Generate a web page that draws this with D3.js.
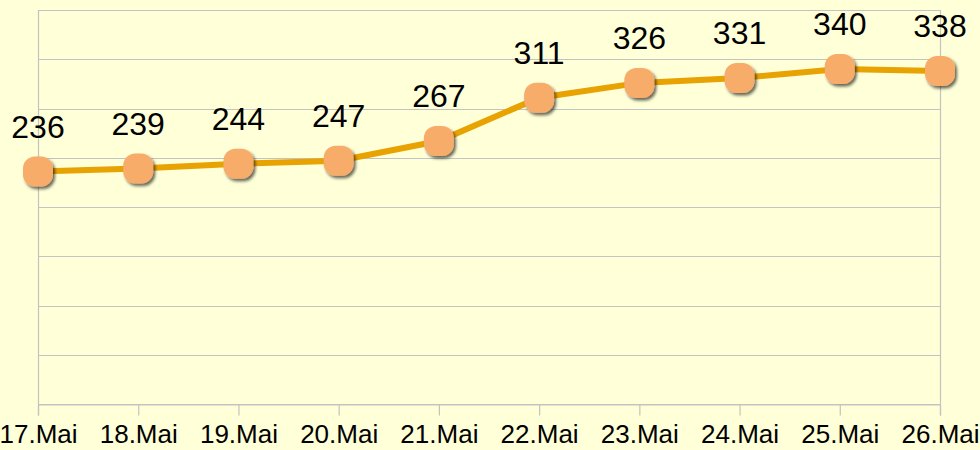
<!DOCTYPE html>
<html>
<head>
<meta charset="utf-8">
<script src="https://cdn.jsdelivr.net/npm/d3@7"></script>
<style>
  html, body { margin: 0; padding: 0; background: #ffffd8; }
  svg { display: block; font-family: "Liberation Sans", Arial, sans-serif; }
</style>
</head>
<body>
<div id="chart"></div>
<script>
const days = ["17.Mai", "18.Mai", "19.Mai", "20.Mai", "21.Mai", "22.Mai", "23.Mai", "24.Mai", "25.Mai", "26.Mai"];
const counts = [236, 239, 244, 247, 267, 311, 326, 331, 340, 338];
const yTicks = [0, 50, 100, 150, 200, 250, 300, 350, 400];

const W = 980, H = 450;
const margin = { top: 10, right: 40, bottom: 46, left: 38 };
const width = W - margin.left - margin.right;
const height = H - margin.top - margin.bottom;

const svg = d3.select("#chart").append("svg")
    .attr("width", W)
    .attr("height", H);

const defs = svg.append("defs");
const shadow = defs.append("filter").attr("id", "shadow")
    .attr("x", "-30%").attr("y", "-30%").attr("width", "170%").attr("height", "170%");
shadow.append("feDropShadow")
    .attr("dx", 2).attr("dy", 2.5).attr("stdDeviation", 1.5)
    .attr("flood-color", "#000").attr("flood-opacity", 0.6);

const g = svg.append("g").attr("transform", `translate(${margin.left},${margin.top})`);

const x = d3.scalePoint().domain(days).range([0, width]);
const y = d3.scaleLinear().domain([0, 400]).range([height, 0]);

// horizontal grid
g.append("g")
    .selectAll("line")
    .data(yTicks)
    .join("line")
    .attr("x1", 0).attr("x2", width)
    .attr("y1", d => Math.round(y(d)) + 0.5).attr("y2", d => Math.round(y(d)) + 0.5)
    .attr("stroke", "#c3c3c3").attr("stroke-width", 1.2);

// plot border left/right
g.append("line").attr("x1", 0.5).attr("x2", 0.5).attr("y1", 0).attr("y2", height)
    .attr("stroke", "#c3c3c3").attr("stroke-width", 1.2);
g.append("line").attr("x1", width + 0.5).attr("x2", width + 0.5).attr("y1", 0).attr("y2", height)
    .attr("stroke", "#c3c3c3").attr("stroke-width", 1.2);

// x axis
const xAxis = g.append("g")
    .attr("transform", `translate(0,${Math.round(height) + 0.5})`)
    .call(d3.axisBottom(x).tickSize(11).tickPadding(9));
xAxis.select(".domain").attr("stroke", "#c3c3c3").attr("stroke-width", 1.2);
xAxis.selectAll(".tick line").attr("stroke", "#c3c3c3").attr("stroke-width", 1.2);
xAxis.selectAll(".tick text")
    .attr("fill", "#000")
    .style("font-size", "26px")
    .style("font-family", "Liberation Sans, Arial, sans-serif");

// line
const line = d3.line()
    .x((d, i) => x(days[i]))
    .y(d => y(d));

g.append("path")
    .datum(counts)
    .attr("fill", "none")
    .attr("stroke", "#e8a202")
    .attr("stroke-width", 6)
    .attr("d", line);

// markers
const ms = 30;
g.append("g")
    .selectAll("rect")
    .data(counts)
    .join("rect")
    .attr("x", (d, i) => x(days[i]) - ms / 2)
    .attr("y", d => y(d) - ms / 2)
    .attr("width", ms).attr("height", ms)
    .attr("rx", 12).attr("ry", 12)
    .attr("fill", "#f8ac6a")
    .attr("filter", "url(#shadow)");

// value labels
g.append("g")
    .selectAll("text")
    .data(counts)
    .join("text")
    .attr("x", (d, i) => x(days[i]))
    .attr("y", d => y(d) - 34)
    .attr("text-anchor", "middle")
    .attr("fill", "#000")
    .style("font-size", "32px")
    .text(d => d);
</script>
</body>
</html>
